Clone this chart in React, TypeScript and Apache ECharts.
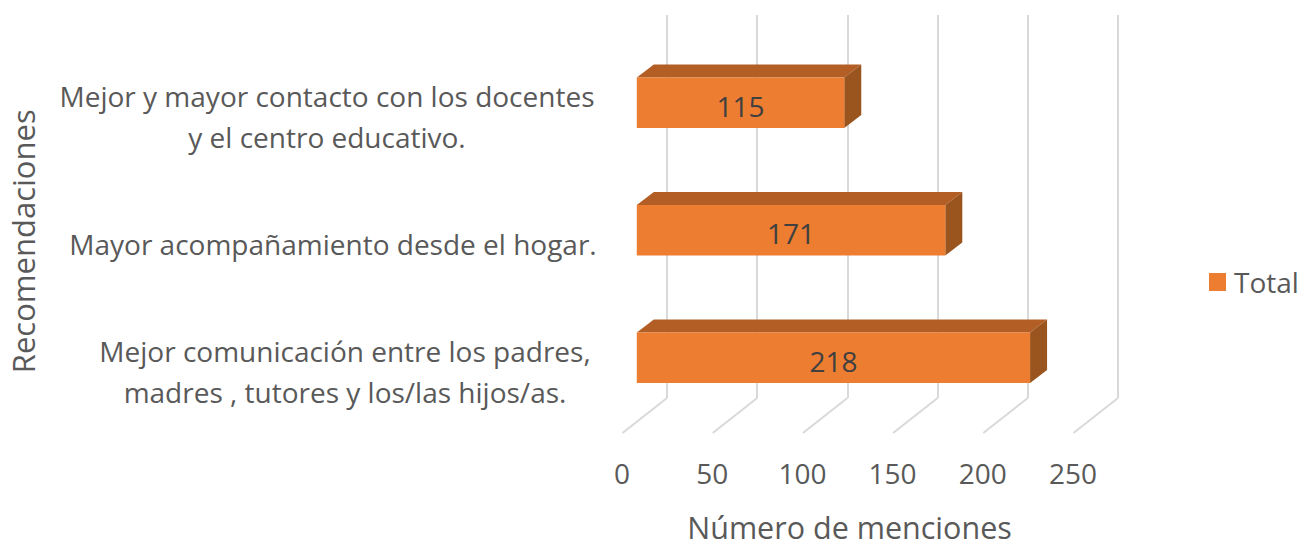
import React, { useEffect, useRef } from "react";
import * as echarts from "echarts";

const categories = [
  "Mejor y mayor contacto con los docentes\ny el centro educativo.",
  "Mayor acompañamiento desde el hogar.",
  "Mejor comunicación entre los padres,\nmadres , tutores y los/las hijos/as.",
];
const totals = [115, 171, 218];
const ticks = [0, 50, 100, 150, 200, 250];
const labelBlockWidths = [536, 524, 500];

const FONT = '"Open Sans", sans-serif';
const GREY = "#595959";
const GRID = "#D9D9D9";
const FRONT = "#ED7D31";
const TOP = "#B35E24";
const SIDE = "#9A541E";
const INSET = 14.8;
const DX = 17;
const DY = 13;

export default function App() {
  const ref = useRef<HTMLDivElement>(null);
  useEffect(() => {
    const chart = echarts.init(ref.current!, undefined, { renderer: "svg" });
    const rich: any = {};
    labelBlockWidths.forEach((w, i) => {
      rich["c" + i] = { width: w, align: "center", fontSize: 28, fontFamily: FONT, color: GREY, lineHeight: 41 };
    });
    chart.setOption({
      animation: false,
      backgroundColor: "#fff",
      legend: {
        data: [{ name: "Total", icon: "rect" }],
        left: 1209,
        top: 268,
        itemWidth: 17,
        itemHeight: 18,
        itemGap: 0,
        padding: 0,
        selectedMode: false,
        textStyle: { fontSize: 28, fontFamily: FONT, color: GREY, padding: [0, 0, 0, 3] },
      },
      grid: [
        { left: 622, width: 451, top: 39, height: 382.5, outerBoundsMode: "none" },
        { left: 667, width: 451, top: 15, height: 383, outerBoundsMode: "none" },
      ],
      xAxis: [
        {
          type: "value",
          gridIndex: 0,
          min: 0,
          max: 250,
          interval: 50,
          splitLine: { show: false },
          axisLine: { show: false },
          axisTick: { show: false },
          axisLabel: { fontSize: 28, fontFamily: FONT, color: GREY, margin: 37 },
          name: "Número de menciones",
          nameLocation: "middle",
          nameGap: 91,
          nameTextStyle: { fontSize: 30.5, lineHeight: 28, fontFamily: FONT, color: GREY, padding: [0, 0, 0, 4] },
        },
        {
          type: "value",
          gridIndex: 1,
          min: 0,
          max: 250,
          interval: 50,
          splitLine: { show: true, lineStyle: { color: GRID, width: 2 } },
          axisLine: { show: false },
          axisTick: { show: false },
          axisLabel: { show: false },
        },
      ],
      yAxis: [
        {
          type: "category",
          gridIndex: 0,
          inverse: true,
          data: categories,
          axisLine: { show: false },
          axisTick: { show: false },
          axisLabel: {
            margin: 27,
            interval: 0,
            padding: [27, 0, 0, 0],
            rich,
            formatter: (v: string) => {
              const i = categories.indexOf(v);
              return v.split("\n").map((l) => `{c${i}|${l}}`).join("\n");
            },
          },
          name: "Recomendaciones",
          nameLocation: "middle",
          nameGap: 584,
          nameTextStyle: { fontSize: 31, fontFamily: FONT, color: GREY, padding: [0, 22, 0, 0] },
        },
        { type: "value", gridIndex: 1, min: 0, max: 1, show: false, splitLine: { show: false } },
      ],
      series: [
        {
          type: "custom",
          name: "floor",
          xAxisIndex: 1,
          yAxisIndex: 1,
          silent: true,
          z: 1,
          data: ticks.map((t) => [t, 0]),
          encode: { x: 0, y: 1 },
          renderItem: (_p: any, api: any) => {
            const [x, y] = api.coord([api.value(0), 0]);
            return {
              type: "line",
              shape: { x1: x, y1: y, x2: x - 44.5, y2: y + 35 },
              style: { stroke: GRID, lineWidth: 2 },
            };
          },
        },
        {
          type: "custom",
          name: "Total",
          xAxisIndex: 0,
          yAxisIndex: 0,
          z: 5,
          itemStyle: { color: FRONT },
          data: totals.map((v, i) => [v, i]),
          encode: { x: 0, y: 1 },
          renderItem: (_p: any, api: any) => {
            const val = api.value(0);
            const cat = api.value(1);
            const [x1, cy] = api.coord([val, cat]);
            const [x0] = api.coord([0, cat]);
            const h = api.size([0, 1])[1] * 0.395;
            const l = x0 + INSET;
            const r = x1 + INSET;
            const t = cy - h / 2;
            const b = cy + h / 2;
            return {
              type: "group",
              children: [
                {
                  type: "polygon",
                  shape: { points: [[l, t], [l + DX, t - DY], [r + DX, t - DY], [r, t]] },
                  style: { fill: TOP },
                },
                {
                  type: "polygon",
                  shape: { points: [[r, t], [r + DX, t - DY], [r + DX, b - DY], [r, b]] },
                  style: { fill: SIDE },
                },
                { type: "rect", shape: { x: l, y: t, width: r - l, height: b - t }, style: { fill: FRONT } },
                {
                  type: "text",
                  x: (l + r) / 2,
                  y: cy + 3,
                  style: {
                    text: String(val),
                    fill: "#404040",
                    fontSize: 28,
                    fontFamily: FONT,
                    align: "center",
                    verticalAlign: "middle",
                  },
                },
              ],
            };
          },
        },
      ],
    });
    return () => chart.dispose();
  }, []);
  return <div ref={ref} style={{ position: "absolute", left: 0, top: 0, width: 1301, height: 540 }} />;
}
